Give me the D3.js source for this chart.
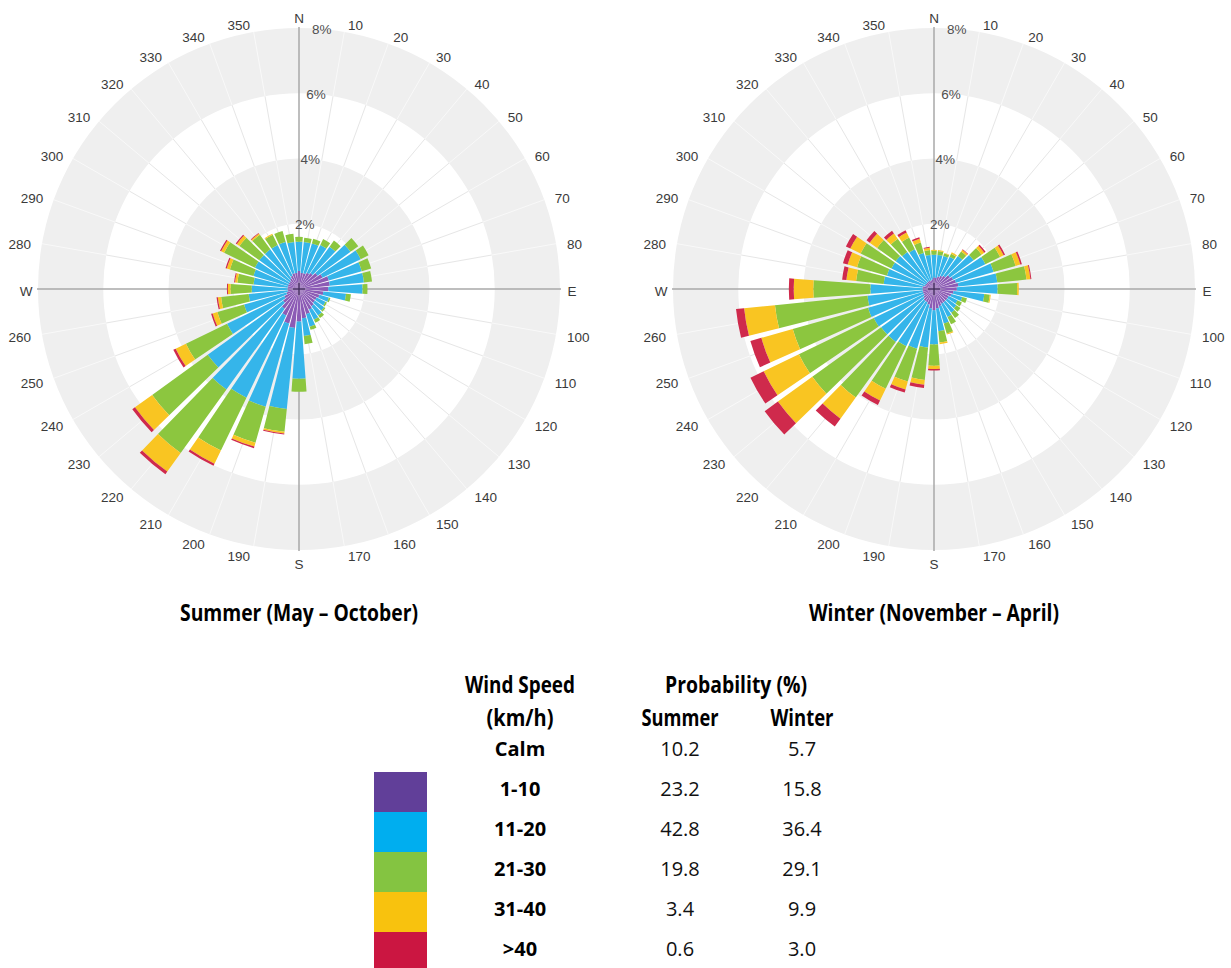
<!DOCTYPE html>
<html>
<head>
<meta charset="utf-8">
<script src="https://cdn.jsdelivr.net/npm/d3@7/dist/d3.min.js"></script>
<style>
  html, body { margin: 0; padding: 0; background: #ffffff; }
  svg { display: block; }
</style>
</head>
<body>
<svg id="chart" width="1231" height="968"></svg>
<script>
// ---------------- DATA ----------------
const directions = [0,10,20,30,40,50,60,70,80,90,100,110,120,130,140,150,160,170,
                    180,190,200,210,220,230,240,250,260,270,280,290,300,310,320,330,340,350];
const directionLabels = ["N","10","20","30","40","50","60","70","80","E","100","110","120","130","140","150","160","170",
                         "S","190","200","210","220","230","240","250","260","W","280","290","300","310","320","330","340","350"];
const ringTicks = [2, 4, 6, 8];
const ringTickLabels = ["2%", "4%", "6%", "8%"];
const speedClasses = ["1-10", "11-20", "21-30", "31-40", ">40"];

// Summer (May – October): % of time per direction and speed class
const summer_1_10  = [0.55,0.50,0.50,0.55,0.60,0.70,0.80,0.95,0.95,0.90,0.75,0.65,0.60,0.60,0.65,0.70,0.80,0.90,
                      1.00,1.20,1.10,0.90,0.75,0.60,0.50,0.40,0.35,0.35,0.35,0.35,0.35,0.35,0.40,0.45,0.50,0.50];
const summer_11_20 = [0.90,0.95,0.95,0.95,1.00,1.25,1.30,1.05,1.05,1.05,0.70,0.30,0.30,0.35,0.35,0.35,0.40,0.55,
                      1.75,2.50,2.65,2.80,3.05,2.85,1.95,1.35,1.20,1.10,1.05,1.10,1.15,1.15,1.10,1.05,1.00,0.95];
const summer_21_30 = [0.15,0.13,0.15,0.20,0.23,0.29,0.27,0.30,0.25,0.15,0.15,0.05,0.05,0.05,0.10,0.10,0.10,0.25,
                      0.40,0.70,1.15,1.80,2.40,2.10,1.40,0.85,0.85,0.65,0.50,0.75,1.05,0.75,0.55,0.35,0.35,0.25];
const summer_31_40 = [0,0,0,0,0,0,0,0,0,0,0,0,0,0,0,0,0,0,
                      0,0.05,0.12,0.45,0.70,0.65,0.35,0.15,0.10,0.08,0.07,0.10,0.10,0.10,0.05,0.03,0,0];
const summer_gt40  = [0,0,0,0,0,0,0,0,0,0,0,0,0,0,0,0,0,0,
                      0,0.03,0.05,0.07,0.10,0.10,0.08,0.05,0.04,0.03,0.03,0.04,0.04,0.04,0.02,0,0,0];

// Winter (November – April)
const winter_1_10  = [0.35,0.35,0.40,0.45,0.50,0.60,0.65,0.70,0.75,0.70,0.60,0.55,0.50,0.50,0.50,0.50,0.55,0.60,
                      0.65,0.60,0.50,0.45,0.45,0.40,0.35,0.35,0.35,0.35,0.35,0.30,0.28,0.28,0.28,0.28,0.28,0.30];
const winter_11_20 = [0.70,0.70,0.65,0.65,0.75,0.90,1.10,1.20,1.20,1.25,0.95,0.35,0.30,0.35,0.40,0.45,0.55,0.70,
                      1.05,1.20,1.40,1.50,1.55,1.60,1.70,1.75,1.70,1.60,1.20,1.20,1.17,1.17,1.12,1.07,0.87,0.75];
const winter_21_30 = [0.12,0.12,0.08,0.10,0.17,0.30,0.50,0.70,0.90,0.60,0.17,0.15,0.15,0.15,0.20,0.25,0.32,0.35,
                      0.65,1.00,1.05,1.45,2.10,2.60,2.55,2.40,2.85,1.75,0.85,0.95,1.05,0.70,0.50,0.40,0.33,0.15];
const winter_31_40 = [0.03,0.03,0.02,0.05,0.06,0.10,0.12,0.15,0.12,0.05,0.03,0,0,0,0,0,0.03,0.05,
                      0.10,0.15,0.25,0.40,0.80,1.30,1.20,1.00,0.95,0.60,0.30,0.30,0.35,0.28,0.20,0.17,0.12,0.07];
const winter_gt40  = [0,0,0,0,0.02,0.05,0.05,0.05,0.03,0,0,0,0,0,0,0,0,0,
                      0.05,0.10,0.10,0.15,0.30,0.50,0.45,0.35,0.25,0.15,0.13,0.15,0.15,0.12,0.10,0.08,0.05,0.03];

// Legend table
const legendRowLabels = ["Calm", "1-10", "11-20", "21-30", "31-40", ">40"];
const summerProbability = ["10.2", "23.2", "42.8", "19.8", "3.4", "0.6"];
const winterProbability = ["5.7", "15.8", "36.4", "29.1", "9.9", "3.0"];

// ---------------- STYLE ----------------
const roseColors   = ["#8c5bb5", "#35b5ea", "#8cc63f", "#f9c522", "#cf2a4c"];
const legendColors = ["#613f99", "#00aeef", "#84c441", "#f8c20e", "#cb1641"];
const bandGray = "#efefef";
const halfGapDeg = 0.8;

const svg = d3.select("#chart");
svg.append("rect").attr("width", 1231).attr("height", 968).attr("fill", "#fff");

const r = d3.scaleLinear().domain([0, 8]).range([0, 261]);
const ang = d3.scaleLinear().domain([0, 360]).range([0, 2 * Math.PI]);
const keys = ["c0", "c1", "c2", "c3", "c4"];

function drawRose(cx, cy, series, title, titleLen) {
  const g = svg.append("g").attr("transform", `translate(${cx},${cy})`);
  const ringArc = d3.arc();

  // alternating gray bands
  [[2, 4], [6, 8]].forEach(([a, b]) => {
    g.append("path")
      .attr("d", ringArc({innerRadius: r(a), outerRadius: r(b), startAngle: 0, endAngle: 2 * Math.PI}))
      .attr("fill", bandGray);
  });

  // spokes
  const bands = [[0, 2, "#e6e6e6"], [2, 4, "#f9f9f9"], [4, 6, "#e6e6e6"], [6, 8, "#f9f9f9"]];
  directions.forEach(d => {
    if (d % 90 === 0) return;
    const a = ang(d);
    bands.forEach(([b0, b1, col]) => {
      g.append("line")
        .attr("x1", r(b0) * Math.sin(a)).attr("y1", -r(b0) * Math.cos(a))
        .attr("x2", r(b1) * Math.sin(a)).attr("y2", -r(b1) * Math.cos(a))
        .attr("stroke", col).attr("stroke-width", 1);
    });
  });

  // axes
  const R = r(8) + 1;
  g.append("line").attr("x1", 0).attr("x2", 0).attr("y1", -R).attr("y2", R)
    .attr("stroke", "#a8a8a8").attr("stroke-width", 1.5);
  g.append("line").attr("y1", 0).attr("y2", 0).attr("x1", -R).attr("x2", R)
    .attr("stroke", "#a8a8a8").attr("stroke-width", 1.5);

  // stacked bars
  const rows = directions.map((d, i) => {
    const o = {dir: d};
    keys.forEach((k, j) => o[k] = series[j][i]);
    return o;
  });
  const stacked = d3.stack().keys(keys)(rows);
  const barArc = d3.arc();
  stacked.forEach((layer, j) => {
    g.append("g").selectAll("path")
      .data(layer.filter(p => p[1] - p[0] > 0))
      .join("path")
      .attr("d", p => barArc({
        innerRadius: r(p[0]), outerRadius: r(p[1]),
        startAngle: ang(p.data.dir - 5 + halfGapDeg), endAngle: ang(p.data.dir + 5 - halfGapDeg)
      }))
      .attr("fill", roseColors[j]);
  });

  // centre cross
  g.append("line").attr("x1", -6).attr("x2", 6).attr("y1", 0).attr("y2", 0)
    .attr("stroke", "#3e2a58").attr("stroke-width", 1.2);
  g.append("line").attr("y1", -6).attr("y2", 6).attr("x1", 0).attr("x2", 0)
    .attr("stroke", "#3e2a58").attr("stroke-width", 1.2);

  // ring labels
  ringTicks.forEach((t, i) => {
    const a = ang(5);
    g.append("text")
      .attr("x", r(t) * Math.sin(a)).attr("y", -r(t) * Math.cos(a))
      .attr("text-anchor", "middle").attr("dominant-baseline", "central")
      .attr("font-family", "Liberation Sans, Arial, sans-serif").attr("font-size", 13.5)
      .attr("fill", "#505050")
      .text(ringTickLabels[i]);
  });

  // direction labels: cardinal letters centred, degrees anchored outward
  directions.forEach((d, i) => {
    const a = ang(d);
    const cardinal = d % 90 === 0;
    const LR = cardinal ? 273 : 270;
    const s = Math.sin(a);
    let anchor = "middle", dx = 0;
    if (!cardinal) {
      anchor = s > 0 ? "start" : "end";
      dx = s > 0 ? 2 : -2;
    }
    g.append("text")
      .attr("x", LR * s + dx).attr("y", -LR * Math.cos(a) + 2)
      .attr("text-anchor", anchor).attr("dominant-baseline", "central")
      .attr("font-family", "Liberation Sans, Arial, sans-serif").attr("font-size", 13.5)
      .attr("fill", "#3a3a3a")
      .text(directionLabels[i]);
  });

  // title
  svg.append("text")
    .attr("x", cx).attr("y", 621)
    .attr("text-anchor", "middle")
    .attr("font-family", "Open Sans, sans-serif").attr("font-weight", 700).attr("font-size", 23)
    .attr("textLength", titleLen).attr("lengthAdjust", "spacingAndGlyphs")
    .attr("fill", "#000")
    .text(title);
}

drawRose(299, 289, [summer_1_10, summer_11_20, summer_21_30, summer_31_40, summer_gt40],
         "Summer (May \u2013 October)", 238);
drawRose(934, 289, [winter_1_10, winter_11_20, winter_21_30, winter_31_40, winter_gt40],
         "Winter (November \u2013 April)", 250);

// ---------------- LEGEND TABLE ----------------
const lg = svg.append("g");
function condensed(x, y, txt, len) {
  lg.append("text").attr("x", x).attr("y", y).attr("text-anchor", "middle")
    .attr("font-family", "Open Sans, sans-serif").attr("font-weight", 700).attr("font-size", 23)
    .attr("textLength", len).attr("lengthAdjust", "spacingAndGlyphs")
    .attr("fill", "#000").text(txt);
}
condensed(520, 693, "Wind Speed", 110);
condensed(520, 726, "(km/h)", 67);
condensed(736, 693, "Probability (%)", 142);
condensed(680, 726, "Summer", 77);
condensed(802, 726, "Winter", 63);

legendRowLabels.forEach((lab, i) => {
  const y = 756 + 40 * i;
  lg.append("text").attr("x", 520).attr("y", y).attr("text-anchor", "middle")
    .attr("font-family", "Open Sans, sans-serif").attr("font-weight", 700).attr("font-size", 20)
    .attr("fill", "#000").text(lab);
  lg.append("text").attr("x", 680).attr("y", y).attr("text-anchor", "middle")
    .attr("font-family", "Open Sans, sans-serif").attr("font-size", 20)
    .attr("fill", "#111").text(summerProbability[i]);
  lg.append("text").attr("x", 802).attr("y", y).attr("text-anchor", "middle")
    .attr("font-family", "Open Sans, sans-serif").attr("font-size", 20)
    .attr("fill", "#111").text(winterProbability[i]);
});

speedClasses.forEach((s, i) => {
  lg.append("rect").attr("x", 374).attr("y", 772 + 40 * i)
    .attr("width", 53).attr("height", 40).attr("fill", legendColors[i]);
});
</script>
</body>
</html>
